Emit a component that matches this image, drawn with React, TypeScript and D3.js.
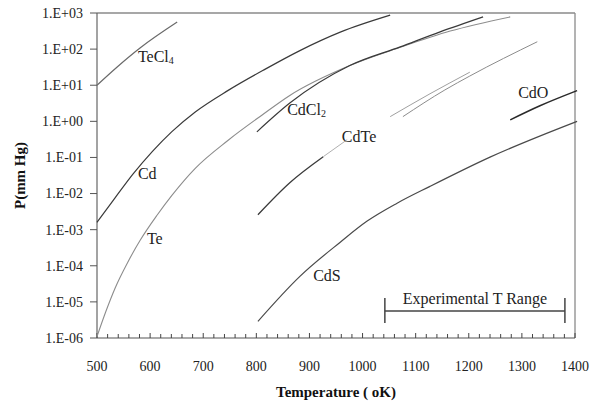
import React from 'react'
import * as d3 from 'd3'

// vapour pressure curves: [T (K), P (mm Hg)]
const teCl4 = [[500, 10], [538, 32], [581, 107], [651, 560]]
const cd = [
    [500, 1.6e-3], [534, 7.6e-3], [568, 0.035], [604, 0.145], [641, 0.52],
    [685, 1.82], [747, 7.2], [816, 27.5], [882, 91], [958, 295], [1052, 870],
]
const te = [
    [500, 1.1e-6], [517, 5.6e-6], [534, 2.4e-5], [558, 1.26e-4], [581, 5e-4],
    [613, 2.5e-3], [641, 8.9e-3], [685, 0.05], [747, 0.3], [811, 1.5],
    [863, 5.2], [976, 35], [1071, 112], [1165, 316], [1278, 780],
]
const cdCl2 = [[801, 0.51], [863, 3.2], [976, 35], [1071, 115], [1146, 300], [1227, 780]]
const cdTe = [[803, 2.6e-3], [863, 0.02], [926, 0.105]]
const cdTeTail = [[926, 0.105], [971, 0.31]]
const cdTeHighA = [[1052, 1.35], [1127, 5.8], [1202, 23]]
const cdTeHighB = [[1076, 1.35], [1155, 7.4], [1202, 18], [1329, 160]]
const cdS = [
    [803, 2.9e-6], [882, 5.1e-5], [958, 4.5e-4], [1008, 1.7e-3], [1065, 5.4e-3],
    [1127, 0.0158], [1240, 0.102], [1404, 1.0],
]
const cdO = [[1278, 1.1], [1334, 2.7], [1404, 7.1]]

const xTicks = [500, 600, 700, 800, 900, 1000, 1100, 1200, 1300, 1400]
const yTicks = [1e3, 1e2, 1e1, 1, 1e-1, 1e-2, 1e-3, 1e-4, 1e-5, 1e-6]
const yTickLabels = ['1.E+03', '1.E+02', '1.E+01', '1.E+00', '1.E-01', '1.E-02', '1.E-03', '1.E-04', '1.E-05', '1.E-06']
const expRange = [1042, 1381]

const series = [
    { data: teCl4, color: '#6a6a6a', w: 1.2 },
    { data: cd, color: '#3a3a3a', w: 1.2 },
    { data: te, color: '#8c8c8c', w: 1.1 },
    { data: cdCl2, color: '#3a3a3a', w: 1.2 },
    { data: cdTe, color: '#3a3a3a', w: 1.3 },
    { data: cdTeTail, color: '#b0b0b0', w: 1 },
    { data: cdTeHighA, color: '#a0a0a0', w: 1 },
    { data: cdTeHighB, color: '#8c8c8c', w: 1 },
    { data: cdS, color: '#4a4a4a', w: 1.2 },
    { data: cdO, color: '#2a2a2a', w: 1.5 },
]

// curve labels anchored in data space
const labels = [
    { name: 'TeCl', sub: '4', t: 577, p: 45 },
    { name: 'Cd', sub: '', t: 577, p: 0.025 },
    { name: 'Te', sub: '', t: 594, p: 3.9e-4 },
    { name: 'CdCl', sub: '2', t: 858, p: 1.5 },
    { name: 'CdTe', sub: '', t: 961, p: 0.26 },
    { name: 'CdO', sub: '', t: 1293, p: 4.5 },
    { name: 'CdS', sub: '', t: 907, p: 3.7e-5 },
]

const W = 592
const H = 404
const margin = { top: 13, right: 17, bottom: 66, left: 97 }
const font = '"Liberation Serif", "Times New Roman", serif'

export default function App() {
    const x = d3.scaleLinear().domain([500, 1400]).range([margin.left, W - margin.right])
    const y = d3.scaleLog().domain([1e-6, 1e3]).range([H - margin.bottom, margin.top])
    const line = d3
        .line<number[]>()
        .x((d) => x(d[0]))
        .y((d) => y(d[1]))
        .curve(d3.curveMonotoneX)

    const x0 = margin.left
    const x1 = W - margin.right
    const yTop = margin.top
    const yBot = H - margin.bottom
    const minor = d3.range(500, 1401, 20)
    const yr = y(6e-6)

    return (
        <svg width={W} height={H} style={{ position: 'absolute', left: 0, top: 0, background: '#fff' }} fontFamily={font}>
            {/* frame */}
            <line x1={x0} x2={x1} y1={yTop} y2={yTop} stroke="#8a8a8a" strokeWidth={1.3} />
            <line x1={x1} x2={x1} y1={yTop} y2={yBot} stroke="#8a8a8a" strokeWidth={1.3} />
            <line x1={x0} x2={x0} y1={yTop} y2={yBot} stroke="#666" strokeWidth={1.2} />
            <line x1={x0} x2={x1} y1={yBot} y2={yBot} stroke="#555" strokeWidth={1.2} />

            {/* y ticks */}
            {yTicks.map((v, i) => (
                <g key={v}>
                    <line x1={x0 - 7} x2={x0} y1={y(v)} y2={y(v)} stroke="#555" />
                    <text x={x0 - 14} y={y(v)} dy="0.35em" textAnchor="end" fontSize={14} fill="#222">
                        {yTickLabels[i]}
                    </text>
                </g>
            ))}

            {/* x ticks */}
            {minor.map((v) => (
                <line key={v} x1={x(v)} x2={x(v)} y1={yBot} y2={yBot - (v % 100 === 0 ? 5 : 4)} stroke="#444" />
            ))}
            {xTicks.map((v) => (
                <text key={v} x={x(v)} y={yBot + 33} textAnchor="middle" fontSize={14} fill="#222">
                    {v}
                </text>
            ))}

            {/* curves */}
            {series.map((s, i) => (
                <path key={i} d={line(s.data) || ''} fill="none" stroke={s.color} strokeWidth={s.w} />
            ))}

            {labels.map((l) => (
                <text key={l.name} x={x(l.t)} y={y(l.p)} fontSize={16} fill="#222">
                    {l.name}
                    {l.sub && (
                        <tspan fontSize={10} dy={2}>
                            {l.sub}
                        </tspan>
                    )}
                </text>
            ))}

            {/* experimental range bracket */}
            <g stroke="#444" strokeWidth={1.5}>
                <line x1={x(expRange[0])} x2={x(expRange[1])} y1={yr + 1} y2={yr + 1} />
                <line x1={x(expRange[0])} x2={x(expRange[0])} y1={yr - 12} y2={yr + 13} />
                <line x1={x(expRange[1])} x2={x(expRange[1])} y1={yr - 12} y2={yr + 13} />
            </g>
            <text x={(x(expRange[0]) + x(expRange[1])) / 2} y={yr - 6} textAnchor="middle" fontSize={16} fill="#222">
                Experimental T Range
            </text>

            {/* axis titles */}
            <text x={(x0 + x1) / 2} y={H - 7} textAnchor="middle" fontSize={15} fontWeight="bold" fill="#111">
                Temperature ( oK)
            </text>
            <text
                transform={`translate(25, ${(yTop + yBot) / 2}) rotate(-90)`}
                textAnchor="middle"
                fontSize={15}
                fontWeight="bold"
                fill="#111"
            >
                P(mm Hg)
            </text>
        </svg>
    )
}
